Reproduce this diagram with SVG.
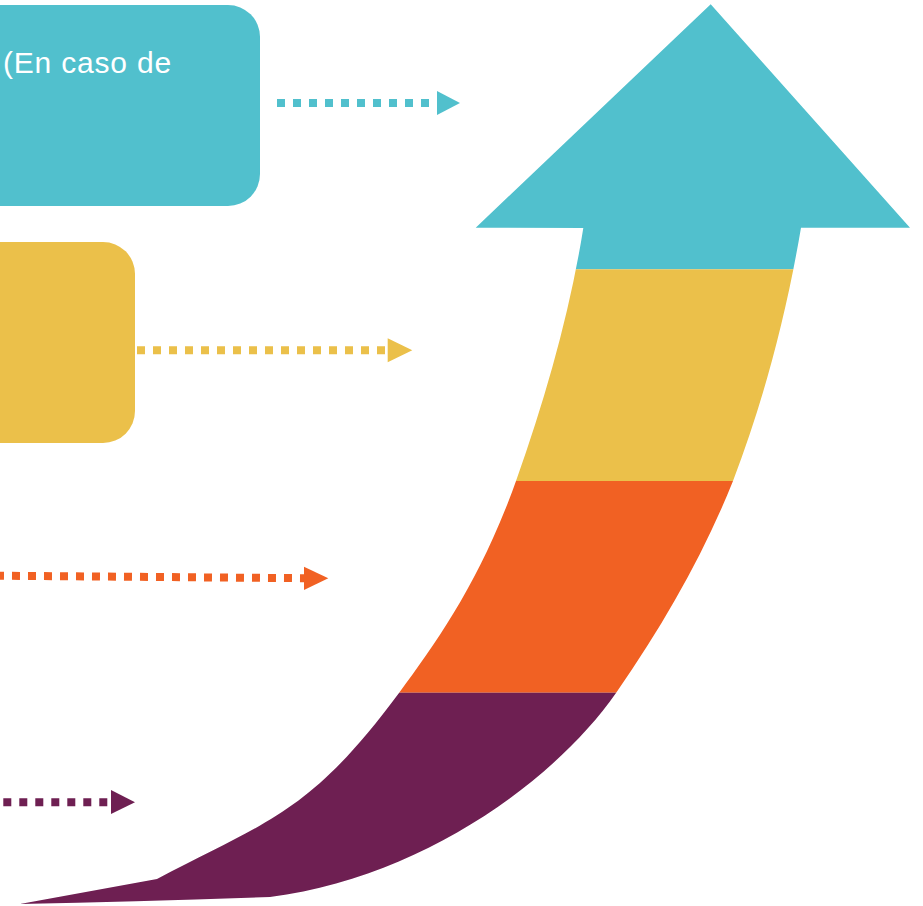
<svg xmlns="http://www.w3.org/2000/svg" width="923" height="906" viewBox="0 0 923 906">
  <style>
    .teal { fill: #51C0CD; }
    .yellow { fill: #EBC04A; }
    .orange { fill: #F16123; }
    .purple { fill: #6E1F52; }
    .dots { fill: none; stroke-width: 8; stroke-dasharray: 8 8; stroke-linecap: butt; }
    .label { font-family: "Liberation Sans", Arial, sans-serif; font-size: 30px; fill: #FFFFFF; letter-spacing: 0.8px; }
  </style>
  <defs>
    <clipPath id="arrowShape">
      <path d="M20,904 L157,879 C267,820.7 309,814.5 399,693 C439,639 481,579 516,481 C546,397 570.3,310 583.3,228 L475.7,227.7 L710.7,4.3 L910,227.7 L801,227.7 C786.7,312 765,397 733,481 C704.7,551.7 665.5,622 616,693 C553,783 420,877.5 270,897 Q140,901.5 20,904 Z"/>
    </clipPath>
  </defs>

  <g id="box-teal">
    <rect class="teal" x="-40" y="5" width="300" height="201" rx="32" ry="32"/>
    <text class="label" x="3" y="73.3">(En caso de</text>
  </g>

  <g id="box-yellow">
    <rect class="yellow" x="-40" y="242" width="175" height="201" rx="32" ry="32"/>
  </g>

  <g id="growth-arrow" clip-path="url(#arrowShape)">
    <rect class="teal" x="0" y="0" width="923" height="269.3"/>
    <rect class="yellow" x="0" y="269.3" width="923" height="211.7"/>
    <rect class="orange" x="0" y="481" width="923" height="211.7"/>
    <rect class="purple" x="0" y="692.7" width="923" height="213.3"/>
  </g>

  <g id="connectors">
    <line class="dots" x1="277" y1="103" x2="429" y2="103" stroke="#51C0CD"/>
    <polygon class="teal" points="437,91 460,103 437,115"/>

    <line class="dots" x1="137" y1="350.3" x2="385" y2="350.3" stroke="#EBC04A"/>
    <polygon class="yellow" points="387.7,338.3 412.3,350.3 387.7,362.3"/>

    <line class="dots" x1="-4" y1="575.7" x2="306" y2="578.2" stroke="#F16123"/>
    <polygon class="orange" points="304,566.7 328.3,578.3 304,590"/>

    <line class="dots" x1="3.3" y1="802.3" x2="107.3" y2="802.3" stroke="#6E1F52"/>
    <polygon class="purple" points="111,790 135,802.3 111,814"/>
  </g>
</svg>
